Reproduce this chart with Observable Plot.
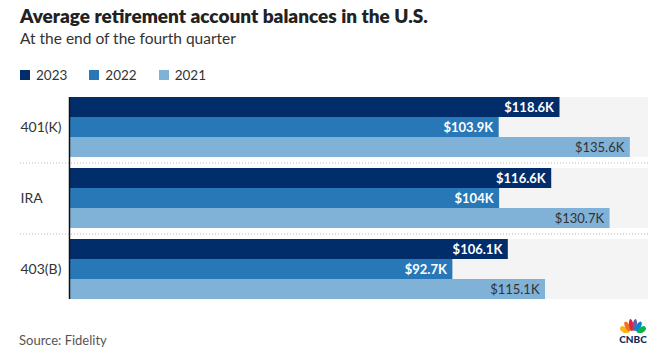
<!DOCTYPE html>
<html>
<head>
<meta charset="utf-8">
<script src="https://cdn.jsdelivr.net/npm/d3@7"></script>
<script src="https://cdn.jsdelivr.net/npm/@observablehq/plot@0.6"></script>
<style>
  html, body { margin: 0; padding: 0; background: #fff; }
  body { width: 666px; height: 358px; position: relative; overflow: hidden; font-family: Lato, "Open Sans", sans-serif; color: #222; }
  .abs { position: absolute; white-space: nowrap; }
  #title { left: 20px; top: 6px; font-size: 19px; font-weight: 800; line-height: 19px; color: #222; }
  #subtitle { left: 20px; top: 31px; font-size: 15.5px; line-height: 15px; color: #333; }
  #legend { left: 20px; top: 68px; font-size: 13.5px; line-height: 14px; color: #333; display: flex; }
  #legend .item { display: flex; align-items: center; margin-right: 22px; }
  #legend .sw { width: 10px; height: 10px; margin-right: 6px; }
  #chart { left: 0; top: 90px; }
  #source { left: 19px; top: 334px; font-size: 13px; line-height: 13px; color: #555; }
  #logo { left: 615px; top: 315px; }
</style>
</head>
<body>
<div id="title" class="abs">Average retirement account balances in the U.S.</div>
<div id="subtitle" class="abs">At the end of the fourth quarter</div>
<div id="legend" class="abs"></div>
<div id="chart" class="abs"></div>
<div id="source" class="abs">Source: Fidelity</div>
<div id="logo" class="abs">
  <svg width="36" height="30" viewBox="0 0 36 30">
    <g transform="translate(18,18)">
      <ellipse cx="-8.5" cy="-3" rx="2.8" ry="5" fill="#fcb711" transform="rotate(-55 -8.5 -3)"/>
      <ellipse cx="-5.5" cy="-6.5" rx="2.4" ry="5.5" fill="#f37021" transform="rotate(-28 -5.5 -6.5)"/>
      <ellipse cx="-1.8" cy="-8" rx="2.1" ry="6" fill="#e0223d" transform="rotate(-8 -1.8 -8)"/>
      <ellipse cx="1.8" cy="-8" rx="2.1" ry="6" fill="#6460aa" transform="rotate(8 1.8 -8)"/>
      <ellipse cx="5.5" cy="-6.5" rx="2.4" ry="5.5" fill="#0089d0" transform="rotate(28 5.5 -6.5)"/>
      <ellipse cx="8.5" cy="-3" rx="2.8" ry="5" fill="#0db14b" transform="rotate(55 8.5 -3)"/>
      <rect x="-12" y="0" width="24" height="3" fill="#fff"/>
    </g>
    <text x="18" y="28" text-anchor="middle" font-family="Lato, sans-serif" font-weight="900" font-size="10" fill="#0f2a5a">CNBC</text>
  </svg>
</div>
<script>
// ---- data ----
const categories = ["401(K)", "IRA", "403(B)"];
const years = ["2023", "2022", "2021"];
const values2023 = [118.6, 116.6, 106.1];
const values2022 = [103.9, 104, 92.7];
const values2021 = [135.6, 130.7, 115.1];
const xMax = 140;

const colors = ["#022d6b", "#2878b8", "#80b1d6"];
const labelColors = ["#ffffff", "#ffffff", "#333333"];
const series = [values2023, values2022, values2021];

const rows = [];
categories.forEach((c, i) => {
  years.forEach((y, j) => {
    rows.push({account: c, year: y, value: series[j][i]});
  });
});
const fmt = v => "$" + v + "K";

// legend
const legend = document.getElementById("legend");
years.forEach((y, j) => {
  const it = document.createElement("div");
  it.className = "item";
  it.innerHTML = `<span class="sw" style="background:${colors[j]}"></span><span>${y}</span>`;
  legend.appendChild(it);
});

const font = "Lato, 'Open Sans', sans-serif";

const chart = Plot.plot({
  width: 666,
  height: 213,
  marginTop: 7,
  marginBottom: 4,
  marginLeft: 20,
  marginRight: 18,
  style: {fontFamily: font, fontSize: "13px", background: "transparent", overflow: "visible"},
  x: {domain: [0, xMax], range: [69, 648], axis: null},
  y: {domain: years, padding: 0, axis: null},
  fy: {domain: categories, paddingInner: 11 / 71, paddingOuter: 0, axis: null, label: null},
  color: {domain: years, range: colors},
  marks: [
    Plot.barX(categories, {fy: d => d, x1: 0, x2: xMax, fill: "#f4f4f4"}),
    Plot.ruleY(categories.slice(0, 2), {fy: d => d, y: () => years[2], dy: 15.5, stroke: "#bbb", strokeDasharray: "1,2", strokeWidth: 1}),
    Plot.barX(rows, {fy: "account", y: "year", x: "value", fill: "year"}),
    Plot.text(rows.filter(d => d.year !== years[2]), {fy: "account", y: "year", x: "value", text: d => fmt(d.value), textAnchor: "end", dx: -6, fill: labelColors[0], fontWeight: 700, fontSize: 13}),
    Plot.text(rows.filter(d => d.year === years[2]), {fy: "account", y: "year", x: "value", text: d => fmt(d.value), textAnchor: "end", dx: -6, fill: labelColors[2], fontWeight: 400, fontSize: 13}),
    Plot.text(categories, {fy: d => d, text: d => d, frameAnchor: "left", fill: "#333", fontSize: 14}),
    Plot.ruleX(categories.slice(0, 2), {fy: d => d, x: () => 0, insetBottom: -11, stroke: "#111", strokeWidth: 1.5}),
    Plot.ruleX(categories.slice(2), {fy: d => d, x: () => 0, stroke: "#111", strokeWidth: 1.5})
  ]
});
document.getElementById("chart").appendChild(chart);
</script>
</body>
</html>
